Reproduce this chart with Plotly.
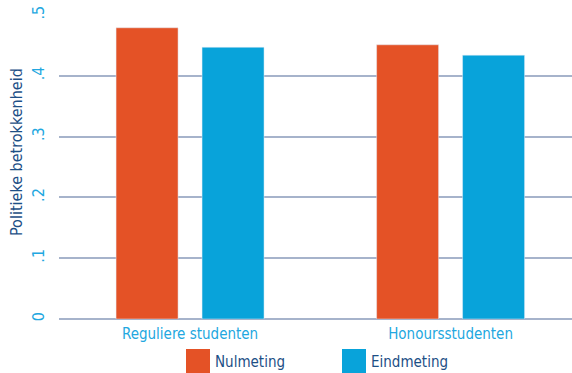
import plotly.graph_objects as go

groups = ["Reguliere studenten", "Honoursstudenten"]
nulmeting = [0.479, 0.451]
eindmeting = [0.447, 0.434]
y_ticks = [0, 0.1, 0.2, 0.3, 0.4, 0.5]
y_tick_labels = ["0", ".1", ".2", ".3", ".4", ".5"]
y_title = "Politieke betrokkenheid"

ORANGE = "#E45226"
BLUE = "#08A3DA"
TICK_BLUE = "#22A7E0"
DARK_BLUE = "#1D4F86"
GRID = "#A6B3CB"
FONT = "DejaVu Sans Condensed, DejaVu Sans, sans-serif"

bar_w = 0.238
fig = go.Figure()
fig.add_trace(go.Bar(name="Nulmeting", x=groups, y=nulmeting, marker_color=ORANGE,
                     width=bar_w, offset=-0.165 - bar_w / 2, showlegend=False))
fig.add_trace(go.Bar(name="Eindmeting", x=groups, y=eindmeting, marker_color=BLUE,
                     width=bar_w, offset=0.165 - bar_w / 2, showlegend=False))

fig.update_layout(
    width=572, height=373,
    margin=dict(l=59, r=0, t=15, b=54),
    plot_bgcolor="white", paper_bgcolor="white",
    font=dict(family=FONT),
    xaxis=dict(type="category", range=[-0.503, 1.466], showgrid=False,
               showline=False, zeroline=False, ticks="", ticklabelstandoff=4,
               tickfont=dict(size=15, color=TICK_BLUE, family=FONT)),
    yaxis=dict(range=[0, 0.5], tickvals=y_ticks, ticktext=y_tick_labels,
               tickangle=-90, tickfont=dict(size=16, color=TICK_BLUE, family=FONT),
               showgrid=True, gridcolor=GRID, gridwidth=1.5,
               zeroline=True, zerolinecolor=GRID, zerolinewidth=1.5,
               showline=False, ticks="", ticklabelstandoff=11),
)

# vertical axis title, sitting slightly above the plot's middle
fig.add_annotation(text=y_title, xref="paper", yref="paper",
                   x=(16 - 59) / 513, y=(319 - 152) / 304,
                   xanchor="center", yanchor="middle", textangle=-90,
                   showarrow=False,
                   font=dict(size=16, color=DARK_BLUE, family=FONT))

# legend drawn as colored squares with labels below the plot
legend_items = [(trace.name, trace.marker.color) for trace in fig.data]
legend_x = [186, 342]
for (name, color), x0 in zip(legend_items, legend_x):
    fig.add_shape(type="rect", xref="paper", yref="paper",
                  x0=(x0 - 59) / 513, x1=(x0 + 24 - 59) / 513,
                  y0=(319 - 373) / 304, y1=(319 - 349) / 304,
                  fillcolor=color, line=dict(width=0))
    fig.add_annotation(text=name, xref="paper", yref="paper",
                       x=(x0 + 27 - 59) / 513, y=(319 - 362) / 304,
                       xanchor="left", yanchor="middle", showarrow=False,
                       font=dict(size=15, color=DARK_BLUE, family=FONT))

fig.write_html("out.html")
